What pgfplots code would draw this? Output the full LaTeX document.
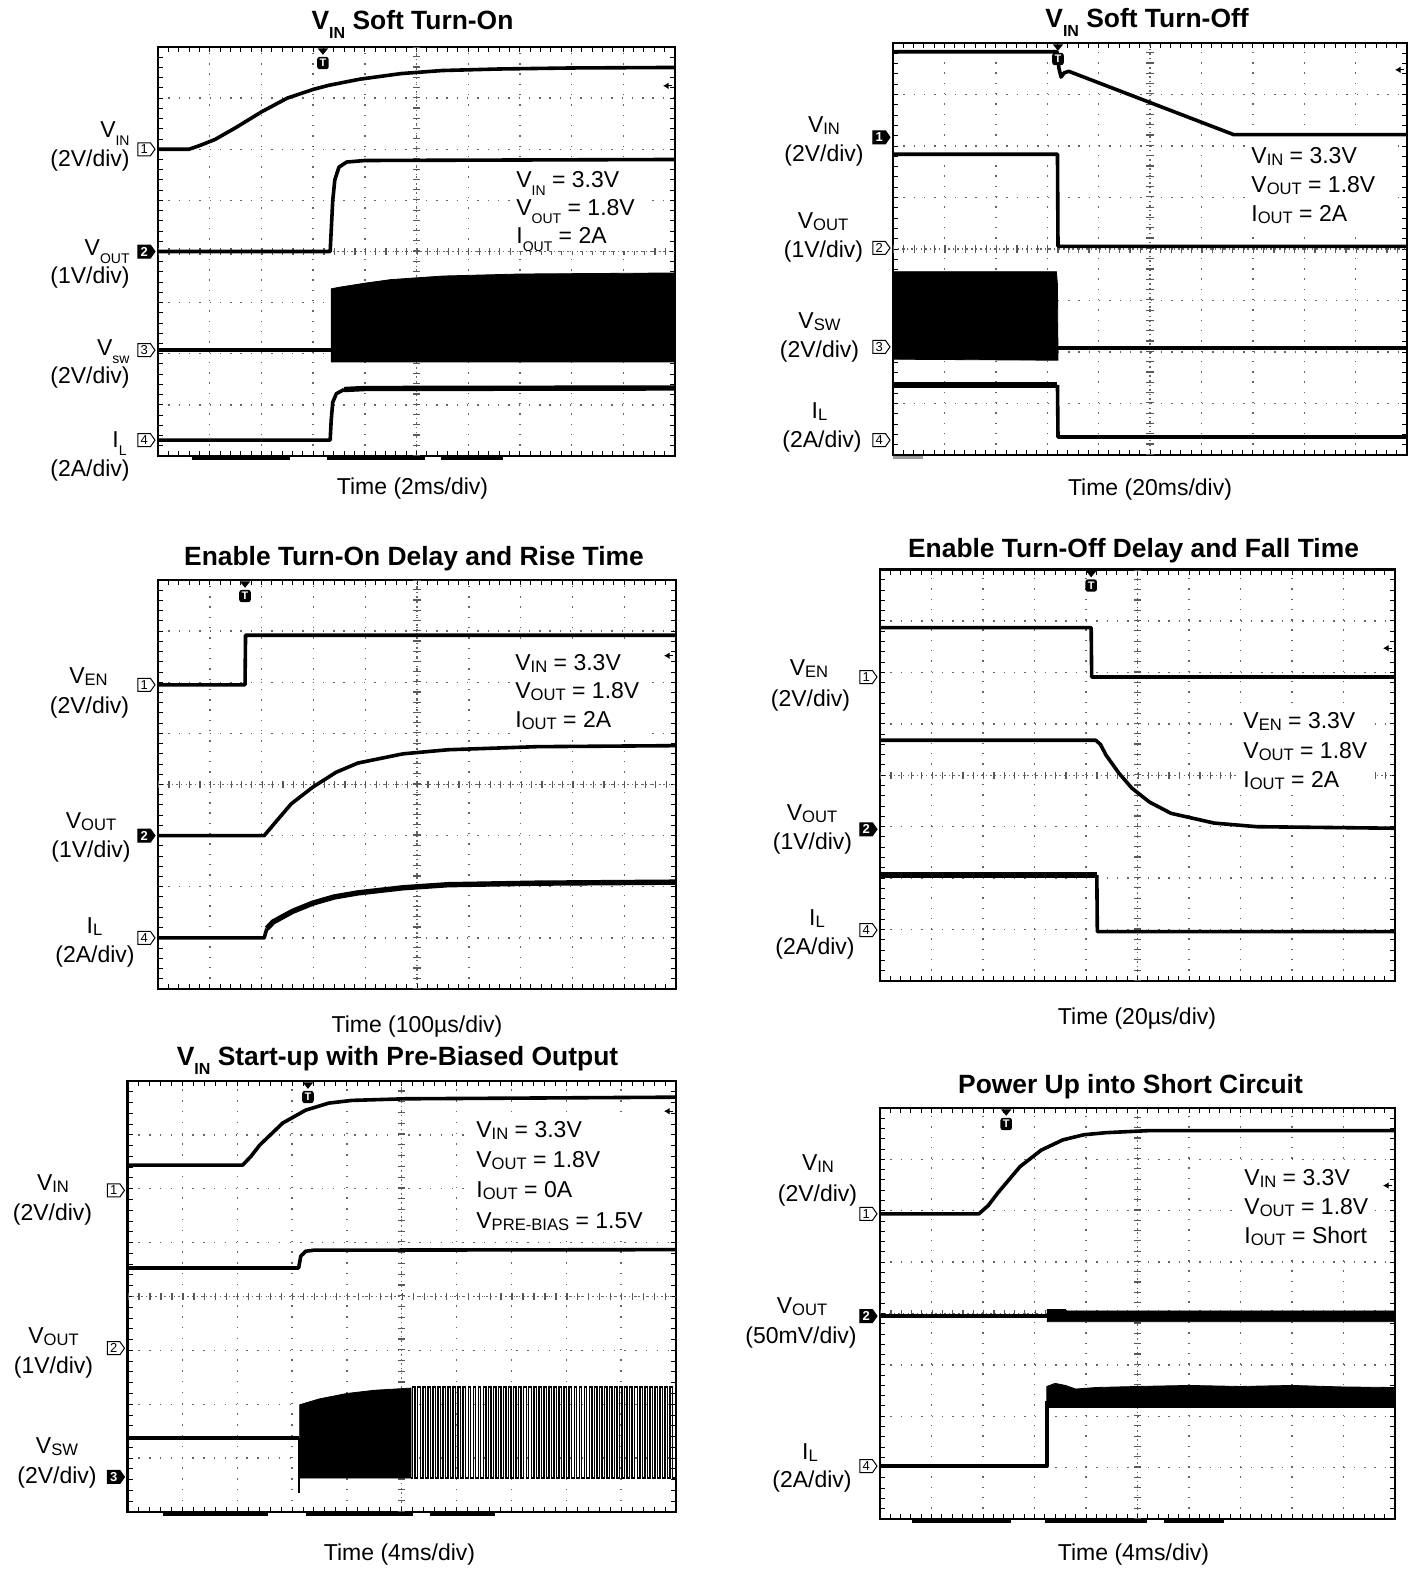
\documentclass[border=0pt]{standalone}
\usepackage{fontspec}
\setmainfont{Liberation Sans}
\usepackage{pgfplots}
\pgfplotsset{compat=1.18}
\usetikzlibrary{shapes.symbols,arrows.meta}

\newcommand\sub[1]{\raisebox{-0.36em}{\fontsize{7}{7}\selectfont #1}}
\newcommand\subb[1]{\raisebox{-0.36em}{\fontsize{8}{8}\selectfont\bfseries #1}}
\newcommand\ssc[1]{\raisebox{-0.1em}{\fontsize{8.3}{9}\selectfont #1}}

\pgfplotsset{
  osc/.style={
    anchor=north west, scale only axis,
    xmin=0, xmax=10, ymin=0, ymax=8,
    xtick={0,1,...,10}, ytick={0,1,...,8},
    minor x tick num=4, minor y tick num=4,
    xticklabels={}, yticklabels={},
    tick align=inside,
    major tick length=2.5pt, minor tick length=2.5pt,
    every tick/.style={black, line width=0.5pt},
    grid=major,
    major grid style={black!60, line width=0.7pt, dash pattern=on 0.7pt off 4.45pt},
    axis line style={line width=1.4pt},
    clip=false,
  },
  tr/.style={black, line width=1.8pt, line join=round, mark=none},
  trt/.style={black, line width=2.7pt, line join=round, mark=none},
  blk/.style={fill=black, draw=black, line width=0.4pt, mark=none},
}
\tikzset{
  cross/.style={black!65, line width=3.6pt, dash pattern=on 0.6pt off #1},
  cline/.style={black!60, line width=0.7pt, dash pattern=on 0.7pt off 1.6pt},
  chm/.style={draw=black, line width=0.5pt, signal, signal to=east, signal pointer angle=110,
    inner sep=0.5pt, minimum height=6.5pt, minimum width=8.5pt,
    font=\fontsize{6.5}{6.5}\selectfont, fill=white, anchor=east, xshift=-1.2pt},
  chf/.style={chm, fill=black, text=white, font=\fontsize{6.5}{6.5}\selectfont\bfseries},
}
\newcommand\trig[1]{%
  \fill (axis cs:#1,8) ++(-2.6pt,-0.7pt) -- ++(5.2pt,0) -- ++(-2.6pt,-3.2pt) -- cycle;
  \node[fill=black, text=white, rounded corners=1.3pt, inner sep=0.4pt, minimum width=5.8pt,
    minimum height=6.2pt, font=\fontsize{5.5}{5.5}\selectfont\bfseries] at ([yshift=-8pt]axis cs:#1,8) {T};}
\newcommand\rarr[1]{\draw[line width=0.6pt, -{Latex[length=2.8pt,width=3.4pt]}] ([xshift=-1.6pt]axis cs:10,#1) -- ([xshift=-6pt]axis cs:10,#1);}
\newcommand\bbar[2]{\draw[line width=1.3pt] ([yshift=-1.3pt]axis cs:#1,0) -- ([yshift=-1.3pt]axis cs:#2,0);}
\newcommand\crosshair[2]{%
  \draw[cline] (axis cs:0,4) -- (axis cs:10,4);
  \draw[cline] (axis cs:5,0) -- (axis cs:5,8);
  \draw[cross=#1] (axis cs:0,4) -- (axis cs:10,4);
  \draw[cross=#2] (axis cs:5,0) -- (axis cs:5,8);}

\begin{document}
\begin{tikzpicture}
\path[use as bounding box] (0,0) rectangle (709pt,-785pt);

% ---------------- Panel 1: VIN Soft Turn-On
\begin{axis}[osc, at={(79pt,-23.5pt)}, width=258.5pt, height=204.5pt]
\crosshair{4.57pt}{4.51pt}
\addplot[tr] coordinates {(0,6.0) (0.6,6.0) (0.8,6.07) (1.1,6.19) (1.5,6.42) (2.0,6.73) (2.5,7.0) (3.0,7.17) (3.3,7.25) (3.9,7.37) (4.7,7.48) (5.5,7.54) (6.6,7.57) (8.0,7.59) (10,7.6)};
\addplot[tr] coordinates {(0,4.0) (3.33,4.0) (3.35,4.4) (3.38,5.0) (3.42,5.4) (3.5,5.65) (3.65,5.75) (4.0,5.78) (10,5.8)};
\addplot[tr] coordinates {(0,2.07) (3.35,2.07)};
\addplot[blk] coordinates {(3.35,1.84) (3.35,3.27) (3.5,3.3) (4.0,3.38) (4.5,3.45) (5.5,3.52) (7,3.56) (10,3.58) (10,1.84)} -- cycle;
\addplot[tr] coordinates {(0,0.31) (3.33,0.31) (3.35,0.7) (3.38,1.05) (3.45,1.22) (3.6,1.3)};
\addplot[trt] coordinates {(3.6,1.3) (4.0,1.32) (10,1.33)};
\node[chm] at (axis cs:0,6.0) {1};
\node[chf] at (axis cs:0,4.0) {2};
\node[chm] at (axis cs:0,2.07) {3};
\node[chm] at (axis cs:0,0.31) {4};
\trig{3.19}
\rarr{7.24}
\bbar{0.65}{2.55}\bbar{3.27}{5.16}\bbar{5.47}{6.67}
\end{axis}

% ---------------- Panel 2: VIN Soft Turn-Off
\begin{axis}[osc, at={(446.5pt,-21.5pt)}, width=257pt, height=206pt]
\crosshair{4.54pt}{4.55pt}
\addplot[tr] coordinates {(0,7.83) (3.19,7.83) (3.23,7.5) (3.27,7.34) (3.33,7.42) (3.42,7.45) (6.63,6.22) (10,6.22)};
\addplot[tr] coordinates {(0,5.84) (3.2,5.84) (3.21,4.05) (10,4.05)};
\addplot[blk] coordinates {(0,1.86) (0,3.56) (3.18,3.56) (3.2,3.3) (3.21,1.84)} -- cycle;
\addplot[tr] coordinates {(3.2,2.08) (10,2.08)};
\addplot[trt] coordinates {(0,1.36) (3.2,1.36)};
\addplot[tr] coordinates {(3.2,1.36) (3.21,0.35) (10,0.35)};
\node[chf] at (axis cs:0,6.17) {1};
\node[chm] at (axis cs:0,4.02) {2};
\node[chm] at (axis cs:0,2.1) {3};
\node[chm] at (axis cs:0,0.29) {4};
\trig{3.21}
\rarr{7.48}
\draw[line width=1.3pt, black!40] ([yshift=-1.3pt]axis cs:0,0) -- ([yshift=-1.3pt]axis cs:0.58,0);
\end{axis}

% ---------------- Panel 3: Enable Turn-On
\begin{axis}[osc, at={(79pt,-290pt)}, width=259pt, height=204.5pt]
\crosshair{4.58pt}{4.51pt}
\addplot[tr] coordinates {(0,5.95) (1.68,5.95) (1.69,6.92) (10,6.92)};
\addplot[tr] coordinates {(0,3.0) (2.05,3.0) (2.3,3.3) (2.57,3.62) (2.99,3.95) (3.44,4.24) (3.86,4.42) (4.73,4.6) (5.6,4.68) (7.32,4.74) (10,4.76)};
\addplot[tr] coordinates {(0,1.0) (2.05,1.0) (2.1,1.18)};
\addplot[trt] coordinates {(2.1,1.18) (2.22,1.31) (2.6,1.52) (2.99,1.68) (3.4,1.8) (3.86,1.88) (4.73,1.98) (5.6,2.04) (7.3,2.07) (10,2.09)};
\node[chm] at (axis cs:0,5.95) {1};
\node[chf] at (axis cs:0,3.0) {2};
\node[chm] at (axis cs:0,1.0) {4};
\trig{1.68}
\rarr{6.52}
\end{axis}

% ---------------- Panel 4: Enable Turn-Off
\begin{axis}[osc, at={(440pt,-284.75pt)}, width=257.5pt, height=205.75pt]
\crosshair{4.55pt}{4.54pt}
\addplot[tr] coordinates {(0,6.87) (4.1,6.87) (4.11,5.91) (10,5.91)};
\addplot[tr] coordinates {(0,4.68) (4.19,4.68) (4.28,4.6) (4.39,4.39) (4.64,4.04) (4.89,3.75) (5.23,3.48) (5.65,3.26) (6.49,3.07) (7.32,3.0) (10,2.97)};
\addplot[trt] coordinates {(0,2.06) (4.21,2.06)};
\addplot[tr] coordinates {(4.21,2.06) (4.22,0.96) (10,0.96)};
\node[chm] at (axis cs:0,5.91) {1};
\node[chf] at (axis cs:0,2.95) {2};
\node[chm] at (axis cs:0,0.99) {4};
\trig{4.1}
\rarr{6.47}
\end{axis}

% ---------------- Panel 5: Start-up with pre-bias
\begin{axis}[osc, at={(63.75pt,-540.5pt)}, width=274.25pt, height=215.5pt,
  major grid style={black!60, line width=0.7pt, dash pattern=on 0.7pt off 4.7pt}]
\crosshair{4.885pt}{4.79pt}
\addplot[tr] coordinates {(0,6.44) (2.1,6.44) (2.25,6.6) (2.41,6.81) (2.83,7.22) (3.25,7.46) (3.67,7.59) (4.09,7.64) (5.06,7.67) (10,7.7)};
\addplot[tr] coordinates {(0,4.53) (3.12,4.53) (3.16,4.75) (3.25,4.84) (3.4,4.86) (10,4.87)};
\addplot[tr] coordinates {(0,1.37) (3.13,1.37)};
\addplot[black, line width=0.8pt, mark=none] coordinates {(3.13,1.37) (3.13,0.35)};
\addplot[blk] coordinates {(3.14,0.63) (3.14,1.99) (3.5,2.1) (4.0,2.2) (4.5,2.26) (5.17,2.3) (5.17,0.63)} -- cycle;
\addplot[black, line width=0.7pt, const plot, mark=none] coordinates {(5.17,0.63)
(5.200,2.32) (5.245,0.63) (5.292,2.32) (5.337,0.63) (5.384,2.32) (5.429,0.63) (5.476,2.32) (5.521,0.63)
(5.568,2.32) (5.613,0.63) (5.660,2.32) (5.705,0.63) (5.752,2.32) (5.797,0.63) (5.844,2.32) (5.889,0.63)
(5.936,2.32) (5.981,0.63) (6.028,2.32) (6.073,0.63) (6.120,2.32) (6.165,0.63) (6.212,2.32) (6.257,0.63)
(6.304,2.32) (6.349,0.63) (6.396,2.32) (6.441,0.63) (6.488,2.32) (6.533,0.63) (6.580,2.32) (6.625,0.63)
(6.672,2.32) (6.717,0.63) (6.764,2.32) (6.809,0.63) (6.856,2.32) (6.901,0.63) (6.948,2.32) (6.993,0.63)
(7.040,2.32) (7.085,0.63) (7.132,2.32) (7.177,0.63) (7.224,2.32) (7.269,0.63) (7.316,2.32) (7.361,0.63)
(7.408,2.32) (7.453,0.63) (7.500,2.32) (7.545,0.63) (7.592,2.32) (7.637,0.63) (7.684,2.32) (7.729,0.63)
(7.776,2.32) (7.821,0.63) (7.868,2.32) (7.913,0.63) (7.960,2.32) (8.005,0.63) (8.052,2.32) (8.097,0.63)
(8.144,2.32) (8.189,0.63) (8.236,2.32) (8.281,0.63) (8.328,2.32) (8.373,0.63) (8.420,2.32) (8.465,0.63)
(8.512,2.32) (8.557,0.63) (8.604,2.32) (8.649,0.63) (8.696,2.32) (8.741,0.63) (8.788,2.32) (8.833,0.63)
(8.880,2.32) (8.925,0.63) (8.972,2.32) (9.017,0.63) (9.064,2.32) (9.109,0.63) (9.156,2.32) (9.201,0.63)
(9.248,2.32) (9.293,0.63) (9.340,2.32) (9.385,0.63) (9.432,2.32) (9.477,0.63) (9.524,2.32) (9.569,0.63)
(9.616,2.32) (9.661,0.63) (9.708,2.32) (9.753,0.63) (9.800,2.32) (9.845,0.63) (9.892,2.32) (9.937,0.63)
(10,0.63)};
\node[chm] at (axis cs:0,5.97) {1};
\node[chm] at (axis cs:0,3.04) {2};
\node[chf] at (axis cs:0,0.65) {3};
\trig{3.29}
\rarr{7.44}
\bbar{0.65}{2.56}\bbar{3.25}{5.2}\bbar{5.51}{6.7}
\end{axis}

% ---------------- Panel 6: Power up into short
\begin{axis}[osc, at={(440pt,-554pt)}, width=257.5pt, height=205.5pt]
\crosshair{4.55pt}{4.54pt}
\addplot[tr] coordinates {(0,5.94) (1.92,5.94) (2.1,6.1) (2.29,6.35) (2.72,6.86) (3.13,7.18) (3.55,7.38) (3.96,7.48) (4.39,7.52) (5.22,7.56) (10,7.56)};
\addplot[tr] coordinates {(0,3.95) (3.25,3.95)};
\addplot[blk] coordinates {(3.25,3.84) (3.25,4.08) (3.6,4.08) (3.62,4.05) (10,4.05) (10,3.84)} -- cycle;
\addplot[tr] coordinates {(0,1.03) (3.24,1.03) (3.24,2.3)};
\addplot[blk] coordinates {(3.24,2.17) (3.24,2.58) (3.4,2.64) (3.6,2.6) (3.8,2.53) (4.2,2.56) (5,2.58) (6,2.6) (7,2.58) (8,2.6) (9,2.57) (10,2.56) (10,2.17)} -- cycle;
\node[chm] at (axis cs:0,5.94) {1};
\node[chf] at (axis cs:0,3.95) {2};
\node[chm] at (axis cs:0,1.03) {4};
\trig{2.45}
\rarr{6.49}
\bbar{0.62}{2.54}\bbar{3.2}{5.18}\bbar{5.51}{6.68}
\end{axis}

% ---------------- Texts
\begin{scope}[x=0.5pt, y=-0.5pt, every node/.style={inner sep=0pt, font=\fontsize{11.5}{13}\selectfont}]
\tikzset{ttl/.style={anchor=base, font=\fontsize{13.2}{15}\selectfont\bfseries},
  ann/.style={anchor=base west}}
% white backgrounds behind annotations
\fill[white] (512,165) rectangle (645,251);
\fill[white] (1247,141) rectangle (1390,228);
\fill[white] (511,648) rectangle (645,734);
\fill[white] (1239,706) rectangle (1375,795);
\fill[white] (472,1115) rectangle (670,1236);
\fill[white] (1240,1163) rectangle (1375,1251);

\node[ttl] at (412.5,29) {V\subb{IN} Soft Turn-On};
\node[ttl] at (1147,27) {V\subb{IN} Soft Turn-Off};
\node[ttl] at (414,565) {Enable Turn-On Delay and Rise Time};
\node[ttl] at (1133.5,557) {Enable Turn-Off Delay and Fall Time};
\node[ttl] at (397.5,1065) {V\subb{IN} Start-up with Pre-Biased Output};
\node[ttl] at (1130.5,1093) {Power Up into Short Circuit};

\node[anchor=base] at (412.5,494) {Time (2ms/div)};
\node[anchor=base] at (1150,495) {Time (20ms/div)};
\node[anchor=base] at (417,1032) {Time (100µs/div)};
\node[anchor=base] at (1137,1024) {Time (20µs/div)};
\node[anchor=base] at (399.5,1560) {Time (4ms/div)};
\node[anchor=base] at (1133.5,1560) {Time (4ms/div)};

% panel 1 labels
\node[anchor=base east] at (130,137) {V\sub{IN}};
\node[anchor=base east] at (130,166) {(2V/div)};
\node[anchor=base east] at (130,255) {V\sub{OUT}};
\node[anchor=base east] at (130,283) {(1V/div)};
\node[anchor=base east] at (130,355) {V\sub{sw}};
\node[anchor=base east] at (130,383) {(2V/div)};
\node[anchor=base east] at (127,447) {I\sub{L}};
\node[anchor=base east] at (130,476) {(2A/div)};
\node[ann] at (516,187) {V\sub{IN} = 3.3V};
\node[ann] at (516,215) {V\sub{OUT} = 1.8V};
\node[ann] at (516,243) {I\sub{OUT} = 2A};

% panel 2 labels
\node[anchor=base] at (824,132) {V\ssc{IN}};
\node[anchor=base] at (824,161) {(2V/div)};
\node[anchor=base] at (823,228) {V\ssc{OUT}};
\node[anchor=base] at (823.5,257) {(1V/div)};
\node[anchor=base] at (819.5,328) {V\ssc{SW}};
\node[anchor=base] at (819.5,357) {(2V/div)};
\node[anchor=base] at (819.5,418) {I\ssc{L}};
\node[anchor=base] at (822,447) {(2A/div)};
\node[ann] at (1251,163) {V\ssc{IN} = 3.3V};
\node[ann] at (1251,192) {V\ssc{OUT} = 1.8V};
\node[ann] at (1251,221) {I\ssc{OUT} = 2A};

% panel 3 labels
\node[anchor=base] at (88.5,683) {V\ssc{EN}};
\node[anchor=base] at (89.5,713) {(2V/div)};
\node[anchor=base] at (91,828) {V\ssc{OUT}};
\node[anchor=base] at (91,857) {(1V/div)};
\node[anchor=base] at (94.5,933) {I\ssc{L}};
\node[anchor=base] at (95,962) {(2A/div)};
\node[ann] at (515,670) {V\ssc{IN} = 3.3V};
\node[ann] at (515,698) {V\ssc{OUT} = 1.8V};
\node[ann] at (515,727) {I\ssc{OUT} = 2A};

% panel 4 labels
\node[anchor=base] at (809,675) {V\ssc{EN}};
\node[anchor=base] at (810.5,706) {(2V/div)};
\node[anchor=base] at (812,820) {V\ssc{OUT}};
\node[anchor=base] at (812.5,849) {(1V/div)};
\node[anchor=base] at (817,925) {I\ssc{L}};
\node[anchor=base] at (815,954) {(2A/div)};
\node[ann] at (1243,728) {V\ssc{EN} = 3.3V};
\node[ann] at (1243,758) {V\ssc{OUT} = 1.8V};
\node[ann] at (1243,787) {I\ssc{OUT} = 2A};

% panel 5 labels
\node[anchor=base] at (53,1190) {V\ssc{IN}};
\node[anchor=base] at (52.5,1220) {(2V/div)};
\node[anchor=base] at (53.5,1343) {V\ssc{OUT}};
\node[anchor=base] at (53.5,1373) {(1V/div)};
\node[anchor=base] at (57,1453) {V\ssc{SW}};
\node[anchor=base] at (57,1483) {(2V/div)};
\node[ann] at (476,1137) {V\ssc{IN} = 3.3V};
\node[ann] at (476,1167) {V\ssc{OUT} = 1.8V};
\node[ann] at (476,1197) {I\ssc{OUT} = 0A};
\node[ann] at (476,1228) {V\ssc{PRE-BIAS} = 1.5V};

% panel 6 labels
\node[anchor=base] at (818,1170) {V\ssc{IN}};
\node[anchor=base] at (817.5,1201) {(2V/div)};
\node[anchor=base] at (802,1313) {V\ssc{OUT}};
\node[anchor=base] at (801,1343) {(50mV/div)};
\node[anchor=base] at (810,1459) {I\ssc{L}};
\node[anchor=base] at (812,1487) {(2A/div)};
\node[ann] at (1244,1185) {V\ssc{IN} = 3.3V};
\node[ann] at (1244,1214) {V\ssc{OUT} = 1.8V};
\node[ann] at (1244,1243) {I\ssc{OUT} = Short};
\end{scope}
\end{tikzpicture}
\end{document}
